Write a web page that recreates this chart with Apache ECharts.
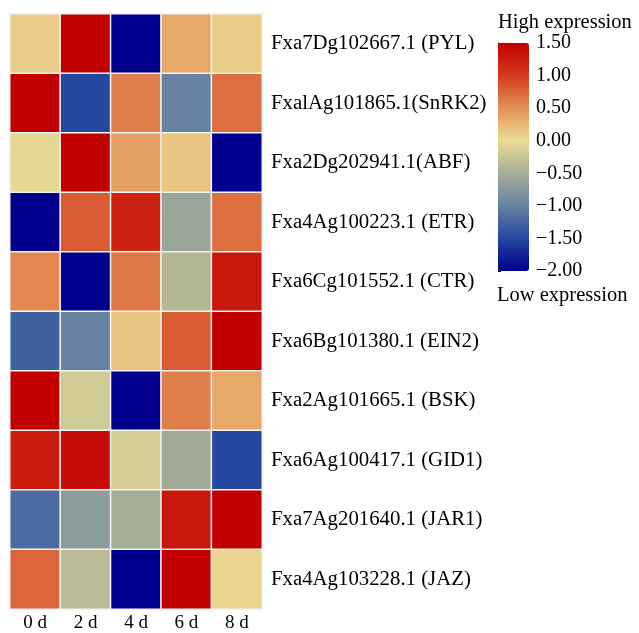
<!DOCTYPE html>
<html>
<head>
<meta charset="utf-8">
<script src="https://cdn.jsdelivr.net/npm/echarts@6/dist/echarts.min.js"></script>
<style>
html, body { margin: 0; padding: 0; background: #fff; }
#main { width: 639px; height: 633px; }
</style>
</head>
<body>
<div id="main"></div>
<script>
var days = ['0 d', '2 d', '4 d', '6 d', '8 d'];
var genes = [
    'Fxa7Dg102667.1 (PYL)',
    'FxalAg101865.1(SnRK2)',
    'Fxa2Dg202941.1(ABF)',
    'Fxa4Ag100223.1 (ETR)',
    'Fxa6Cg101552.1 (CTR)',
    'Fxa6Bg101380.1 (EIN2)',
    'Fxa2Ag101665.1 (BSK)',
    'Fxa6Ag100417.1 (GID1)',
    'Fxa7Ag201640.1 (JAR1)',
    'Fxa4Ag103228.1 (JAZ)'
];
// expression per gene, columns follow days
var expr = [
    [0.1, 1.5, -2.0, 0.35, 0.1],
    [1.5, -1.5, 0.6, -1.0, 0.7],
    [-0.05, 1.5, 0.4, 0.15, -2.0],
    [-2.0, 0.8, 1.2, -0.6, 0.7],
    [0.55, -2.0, 0.65, -0.4, 1.3],
    [-1.3, -1.0, 0.15, 0.8, 1.5],
    [1.5, -0.2, -2.0, 0.6, 0.35],
    [1.25, 1.4, -0.15, -0.55, -1.5],
    [-1.2, -0.7, -0.5, 1.3, 1.5],
    [0.75, -0.35, -2.0, 1.5, 0.05]
];
var scaleColors = ['#00008c', '#2448a0', '#6682a0', '#a6ae96', '#ecdc94', '#e39056', '#d43a1e', '#c20000'];

var cells = [];
for (var r = 0; r < genes.length; r++) {
    for (var c = 0; c < days.length; c++) {
        cells.push([c, r, expr[r][c]]);
    }
}

var font = '"Liberation Serif", "Times New Roman", serif';

var option = {
    animation: false,
    grid: [
        { left: 10, top: 14, width: 252, height: 595 },
        { left: 498, top: 43, width: 31, height: 228 }
    ],
    xAxis: [{
        type: 'category',
        data: days,
        gridIndex: 0,
        axisLine: { show: false },
        axisTick: { show: false },
        axisLabel: { color: '#000', fontFamily: font, fontSize: 19, margin: 5 },
        splitArea: { show: false }
    }, {
        type: 'value',
        gridIndex: 1,
        show: false
    }],
    yAxis: [{
        type: 'category',
        data: genes,
        inverse: true,
        gridIndex: 0,
        position: 'right',
        axisLine: { show: false },
        axisTick: { show: false },
        axisLabel: { color: '#000', fontFamily: font, fontSize: 20.8, margin: 9, padding: [6, 0, 0, 0] }
    }, {
        type: 'value',
        gridIndex: 1,
        position: 'right',
        min: -2,
        max: 1.5,
        interval: 0.5,
        splitLine: { show: false },
        axisLine: { show: true, lineStyle: { color: '#000' } },
        axisTick: { show: true, length: 3, lineStyle: { color: '#000' } },
        axisLabel: {
            color: '#000', fontFamily: font, fontSize: 20, margin: 7,
            formatter: function(v) { return (v < 0 ? '\u2212' : '') + Math.abs(v).toFixed(2); }
        }
    }],
    visualMap: {
        type: 'continuous',
        seriesIndex: 0,
        min: -2,
        max: 1.5,
        calculable: false,
        realtime: false,
        orient: 'vertical',
        left: 498,
        top: 43,
        itemWidth: 31,
        itemHeight: 228,
        padding: 0,
        text: null,
        showLabel: false,
        inRange: { color: scaleColors }
    },
    graphic: [{
        type: 'text',
        left: 498,
        top: 12,
        style: { text: 'High expression', font: '20.5px ' + font, fill: '#000' }
    }, {
        type: 'text',
        left: 497,
        top: 285,
        style: { text: 'Low expression', font: '20.5px ' + font, fill: '#000' }
    }],
    series: [{
        type: 'heatmap',
        xAxisIndex: 0,
        yAxisIndex: 0,
        data: cells,
        itemStyle: { borderColor: '#f4f4f0', borderWidth: 1.5 },
        emphasis: { disabled: true }
    }]
};

var myChart = echarts.init(document.getElementById('main'));
myChart.setOption(option);
</script>
</body>
</html>
